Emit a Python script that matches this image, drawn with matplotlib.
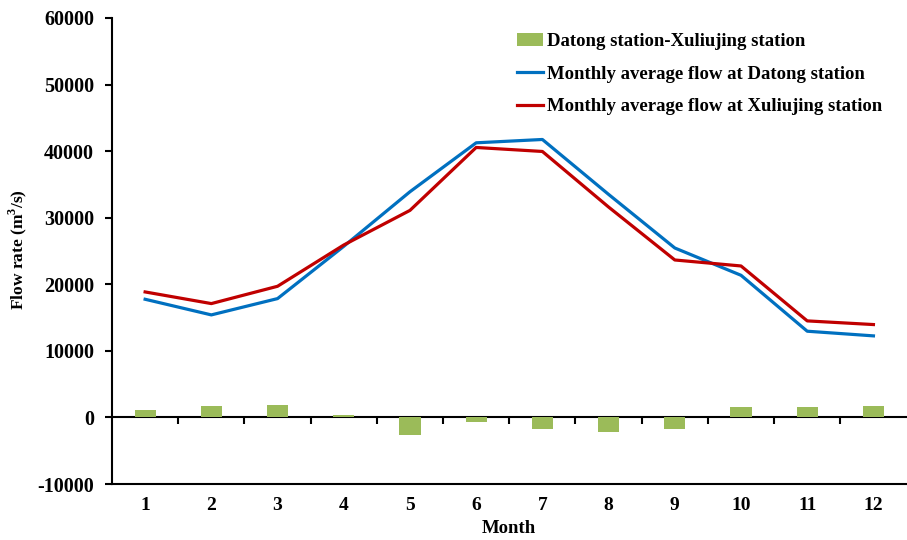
import numpy as np
import matplotlib.pyplot as plt

## Data ##
months = [1, 2, 3, 4, 5, 6, 7, 8, 9, 10, 11, 12]
datong_flow = [17750, 15400, 17850, 25700, 33900, 41250, 41750, 33500, 25450, 21350, 12950, 12250]
xuliujing_flow = [18850, 17100, 19700, 25900, 31100, 40550, 39950, 31600, 23650, 22750, 14500, 13950]
diff_flow = [1050, 1700, 1800, 400, -2650, -650, -1700, -2200, -1700, 1500, 1600, 1700]

plt.rcParams['font.family'] = ['Liberation Serif', 'DejaVu Serif']
plt.rcParams['font.weight'] = 'bold'
plt.rcParams['axes.unicode_minus'] = False
plt.rcParams['mathtext.fontset'] = 'custom'
plt.rcParams['mathtext.rm'] = 'Liberation Serif:bold'
plt.rcParams['mathtext.bf'] = 'Liberation Serif:bold'

fig = plt.figure(figsize=(9.07, 5.40), dpi=100)
ax = fig.add_axes([0.1235, 0.1037, 0.876, 0.863])

## bars and lines
bars = ax.bar(months, diff_flow, width=0.32, color='#9BBB59', label='Datong station-Xuliujing station', zorder=2)
l1, = ax.plot(months, datong_flow, color='#0070C0', lw=2.3, label='Monthly average flow at Datong station', zorder=3)
l2, = ax.plot(months, xuliujing_flow, color='#C00000', lw=2.3, label='Monthly average flow at Xuliujing station', zorder=3)

ax.set_xlim(0.5, 12.5)
ax.set_ylim(-10000, 60000)
ax.set_yticks(np.arange(-10000, 60001, 10000))
ax.set_xticks(months)
ax.set_xticklabels([str(m) for m in months])

for s in ['top', 'right']:
    ax.spines[s].set_visible(False)
for s in ['left', 'bottom']:
    ax.spines[s].set_linewidth(1.5)

ax.tick_params(axis='y', direction='out', length=5, width=1.5, labelsize=14.5, pad=8)
ax.tick_params(axis='x', length=0, labelsize=14, pad=9)

# category axis crossing at zero
zero_ax = ax.secondary_xaxis(1 / 7)
zero_ax.set_xticks(np.arange(1.5, 12, 1.0))
zero_ax.set_xticklabels([])
zero_ax.tick_params(direction='out', length=5, width=1.5)
zero_ax.spines['bottom'].set_linewidth(1.5)

ax.set_xlabel('Month', fontsize=13.5, fontweight='bold', labelpad=5)
ax.set_ylabel('Flow rate (m$^{3}$/s)', fontsize=12.5, fontweight='bold')
ax.yaxis.set_label_coords(-0.1045, 0.504)

ax.legend([bars, l1, l2], [bars.get_label(), l1.get_label(), l2.get_label()],
          loc='upper left', bbox_to_anchor=(517 / 907, 1 - 33 / 540), bbox_transform=fig.transFigure,
          frameon=False, fontsize=13.5, borderpad=0, borderaxespad=0,
          handlelength=1.4, handletextpad=0.2, labelspacing=0.82)

fig.savefig('out.png', dpi=100)
